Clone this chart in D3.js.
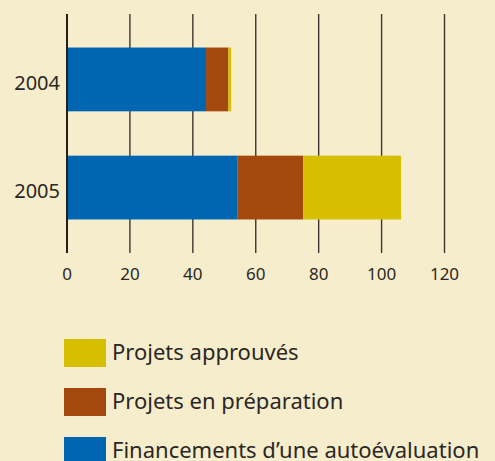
<!DOCTYPE html>
<html>
<head>
<meta charset="utf-8">
<script src="https://cdn.jsdelivr.net/npm/d3@7"></script>
<style>
  body { margin: 0; background: #f6edcc; }
  svg { display: block; }
</style>
</head>
<body>
<script>
// data
const years = ["2004", "2005"];
const seriesNames = ["Financements d\u2019une autoévaluation", "Projets en préparation", "Projets approuvés"];
const autoeval = [44.2, 54.1];
const preparation = [7.1, 21.0];
const approuves = [0.9, 31.1];
const ticks = [0, 20, 40, 60, 80, 100, 120];
const colours = ["#0066b2", "#a3490e", "#d6bf00"];

const dims = { width: 495, height: 461 };
const plot = { left: 67, right: 444.5, top: 14, bottom: 253 };

const svg = d3.select("body").append("svg")
    .attr("width", dims.width)
    .attr("height", dims.height)
    .style("background-color", "#f6edcc");

const x = d3.scaleLinear().domain([0, 120]).range([plot.left, plot.right]);
const y = d3.scaleBand().domain(years).range([plot.top, plot.bottom])
    .paddingInner(0.41).paddingOuter(0.31);

// stacked rows
const rows = years.map((yr, i) => ({ year: yr, a: autoeval[i], p: preparation[i], q: approuves[i] }));
const stack = d3.stack().keys(["a", "p", "q"])(rows);

// grid lines
svg.append("g").selectAll("line").data(ticks.slice(1)).enter()
  .append("line")
    .attr("x1", d => x(d)).attr("x2", d => x(d))
    .attr("y1", plot.top).attr("y2", plot.bottom)
    .attr("stroke", "#3b3631").attr("stroke-width", 1.4);

// bars
svg.append("g").selectAll("g").data(stack).enter()
  .append("g").attr("fill", (d, i) => colours[i])
  .selectAll("rect").data(d => d).enter()
  .append("rect")
    .attr("x", d => x(d[0]))
    .attr("width", d => x(d[1]) - x(d[0]))
    .attr("y", d => y(d.data.year))
    .attr("height", y.bandwidth());

// y axis line
svg.append("line")
    .attr("x1", x(0)).attr("x2", x(0))
    .attr("y1", plot.top).attr("y2", plot.bottom)
    .attr("stroke", "#231f1c").attr("stroke-width", 2);

// x tick labels
svg.append("g").selectAll("text").data(ticks).enter()
  .append("text")
    .attr("x", d => x(d)).attr("y", 280)
    .attr("text-anchor", "middle")
    .attr("font-family", "Noto Sans").attr("font-size", 17)
    .attr("fill", "#2b2724")
    .text(d => d);

// year labels
svg.append("g").selectAll("text").data(years).enter()
  .append("text")
    .attr("x", 60).attr("y", d => y(d) + y.bandwidth() / 2 + 10.5)
    .attr("text-anchor", "end")
    .attr("font-family", "Noto Sans").attr("font-size", 20)
    .attr("fill", "#2b2724")
    .text(d => d);

// legend (reverse order)
const legendItems = [2, 1, 0];
const lg = svg.append("g").selectAll("g").data(legendItems).enter()
  .append("g").attr("transform", (d, i) => `translate(64, ${339 + i * 49})`);
lg.append("rect").attr("width", 42).attr("height", 28).attr("fill", d => colours[d]);
lg.append("text")
    .attr("x", 48).attr("y", 20.5)
    .attr("font-family", "Noto Sans").attr("font-size", 22)
    .attr("fill", "#2b2724")
    .text(d => seriesNames[d]);
</script>
</body>
</html>
